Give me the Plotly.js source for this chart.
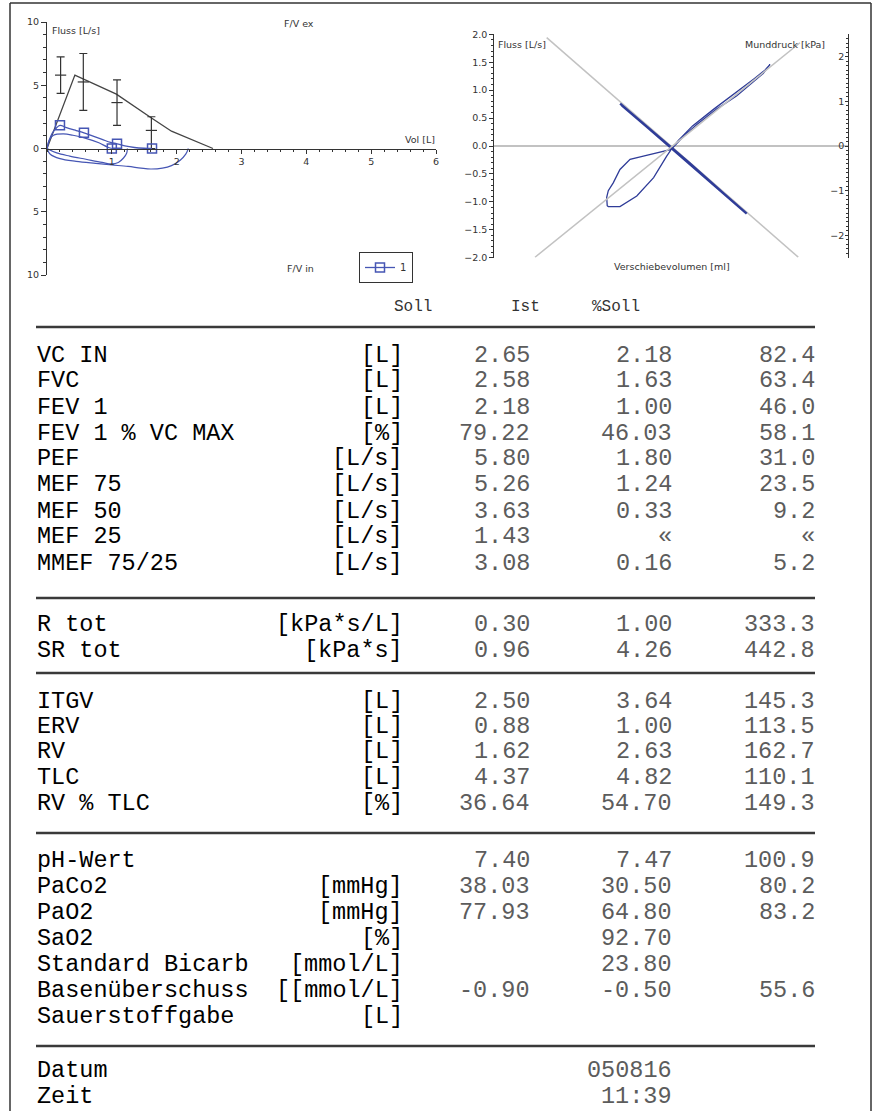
<!DOCTYPE html>
<html>
<head>
<meta charset="utf-8">
<script src="https://cdn.plot.ly/plotly-3.0.1.min.js"></script>
<style>html,body{margin:0;padding:0;background:#fff;}#chart{width:875px;height:1111px;}</style>
</head>
<body>
<div id="chart"></div>
<script>
// ---------- Data: flow-volume plot (left) ----------
const predVol   = [0, 0.43, 1.07, 1.25, 1.60, 1.92, 2.56];
const predFlow  = [0, 5.80, 4.30, 3.65, 2.45, 1.37, 0];
const refPtVol  = [0.21, 0.56, 1.08, 1.61];
const refPtFlow = [5.80, 5.26, 3.63, 1.43];
const refPlus   = [1.45, 2.25, 1.80, 1.08];
const refMinus  = [1.45, 2.25, 1.80, 1.43];

const exp1Vol  = [0, 0.03, 0.08, 0.14, 0.20, 0.30, 0.45, 0.57, 0.70, 0.85, 0.98, 1.08, 1.20, 1.35, 1.50, 1.62];
const exp1Flow = [0, 0.60, 1.20, 1.60, 1.83, 1.65, 1.42, 1.24, 1.00, 0.72, 0.48, 0.37, 0.20, 0.08, 0.02, 0];
const exp1Markers = [4, 7, 11, 15];
const exp2Vol  = [0, 0.04, 0.10, 0.25, 0.40, 0.60, 0.80, 0.93, 1.00];
const exp2Flow = [0, 0.70, 1.05, 1.15, 1.05, 0.80, 0.45, 0.12, 0];
const exp2Markers = [8];
const insp1Vol  = [0, 0.15, 0.35, 0.60, 0.85, 1.00, 1.10, 1.18, 1.23, 1.24];
const insp1Flow = [0, -0.35, -0.60, -0.85, -1.10, -1.22, -1.10, -0.75, -0.35, 0];
const insp2Vol  = [0, 0.05, 0.20, 0.45, 0.75, 1.00, 1.25, 1.45, 1.60, 1.78, 1.92, 2.05, 2.14, 2.18];
const insp2Flow = [0, -0.45, -0.80, -1.02, -1.18, -1.30, -1.42, -1.55, -1.62, -1.55, -1.35, -0.95, -0.45, 0];

const volTickVals  = [1, 2, 3, 4, 5, 6];
const volTickText  = ['1', '2', '3', '4', '5', '6'];
const flowTickVals = [-10, -5, 0, 5, 10];
const flowTickText = ['10', '5', '0', '5', '10'];

// ---------- Data: bodyplethysmography plot (right) ----------
const refFlowLineX = [-0.704, 0.717];
const refFlowLineY = [1.94, -1.99];
const refPressLineX = [-0.770, 0.727];
const refPressLineY = [-2.49, 2.31];   // Munddruck axis units
const shiftX = [-0.289, -0.15, 0.0, 0.20, 0.426, 0.30, 0.10, -0.10, -0.28];
const shiftY = [0.76, 0.38, -0.04, -0.58, -1.21, -0.86, -0.30, 0.24, 0.73];
const loopX = [0.0, 0.068, 0.143, 0.256, 0.37, 0.482, 0.52, 0.558, 0.53, 0.47, 0.36, 0.24, 0.12, 0.04, 0.0,
               -0.083, -0.158, -0.233, -0.29, -0.328, -0.356, -0.365, -0.362, -0.356, -0.29, -0.195, -0.10, -0.026, 0.0];
const loopY = [-0.06, 0.17, 0.38, 0.66, 0.90, 1.20, 1.30, 1.46, 1.36, 1.21, 0.95, 0.66, 0.36, 0.10, -0.06,
               -0.13, -0.18, -0.24, -0.42, -0.66, -0.80, -0.92, -1.07, -1.085, -1.085, -0.895, -0.566, -0.18, -0.06];
const leftTickFmt = '.1f';
const pressTickVals = [-2, -1, 0, 1, 2];

// ---------- Data: table ----------
const headerLabels = ['Soll', 'Ist', '%Soll'];
const rowLabels = ['VC IN', 'FVC', 'FEV 1', 'FEV 1 % VC MAX', 'PEF', 'MEF 75', 'MEF 50', 'MEF 25', 'MMEF 75/25',
  'R tot', 'SR tot',
  'ITGV', 'ERV', 'RV', 'TLC', 'RV % TLC',
  'pH-Wert', 'PaCo2', 'PaO2', 'SaO2', 'Standard Bicarb', 'Basenüberschuss', 'Sauerstoffgabe',
  'Datum', 'Zeit'];
const rowUnits = ['[L]', '[L]', '[L]', '[%]', '[L/s]', '[L/s]', '[L/s]', '[L/s]', '[L/s]',
  '[kPa*s/L]', '[kPa*s]',
  '[L]', '[L]', '[L]', '[L]', '[%]',
  '', '[mmHg]', '[mmHg]', '[%]', '[mmol/L]', '[[mmol/L]', '[L]',
  '', ''];
const sollVals = ['2.65', '2.58', '2.18', '79.22', '5.80', '5.26', '3.63', '1.43', '3.08',
  '0.30', '0.96',
  '2.50', '0.88', '1.62', '4.37', '36.64',
  '7.40', '38.03', '77.93', '', '', '-0.90', '',
  '', ''];
const istVals = ['2.18', '1.63', '1.00', '46.03', '1.80', '1.24', '0.33', '«', '0.16',
  '1.00', '4.26',
  '3.64', '1.00', '2.63', '4.82', '54.70',
  '7.47', '30.50', '64.80', '92.70', '23.80', '-0.50', '',
  '050816', '11:39'];
const pctVals = ['82.4', '63.4', '46.0', '58.1', '31.0', '23.5', '9.2', '«', '5.2',
  '333.3', '442.8',
  '145.3', '113.5', '162.7', '110.1', '149.3',
  '100.9', '80.2', '83.2', '', '', '55.6', '',
  '', ''];
const sectionSizes = [9, 2, 5, 7, 2];

// ---------- Layout helpers ----------
const W = 875, H = 1111;
const px = v => v / W;
const py = v => 1 - v / H;
const blue = '#4656b4';
const darkBlue = '#2f3c98';
const ink = '#333333';
const grey = '#c2c2c2';
const plotFont = 'DejaVu Sans, Verdana, sans-serif';
const monoFont = 'Liberation Mono, Courier New, monospace';

const traces = [
  {x: predVol, y: predFlow, mode: 'lines', line: {color: '#444', width: 1.3}, showlegend: false, hoverinfo: 'skip'},
  {x: refPtVol, y: refPtFlow, mode: 'markers', marker: {symbol: 'line-ew-open', size: 8, color: '#333', line: {width: 1.2, color: '#333'}},
   error_y: {type: 'data', symmetric: false, array: refPlus, arrayminus: refMinus, color: '#333', thickness: 1.2, width: 4},
   showlegend: false, hoverinfo: 'skip'},
  {x: insp1Vol, y: insp1Flow, mode: 'lines', line: {color: blue, width: 1.2, shape: 'spline'}, showlegend: false, hoverinfo: 'skip'},
  {x: insp2Vol, y: insp2Flow, mode: 'lines', line: {color: blue, width: 1.2, shape: 'spline'}, showlegend: false, hoverinfo: 'skip'},
  {x: exp2Vol, y: exp2Flow, mode: 'lines+markers', line: {color: blue, width: 1.2, shape: 'spline'},
   marker: {symbol: 'square-open', size: 9, color: blue, line: {width: 1.5}},
   selectedpoints: exp2Markers, selected: {marker: {opacity: 1}}, unselected: {marker: {opacity: 0}},
   showlegend: false, hoverinfo: 'skip'},
  {x: exp1Vol, y: exp1Flow, mode: 'lines+markers', name: '1', line: {color: blue, width: 1.3, shape: 'spline'},
   marker: {symbol: 'square-open', size: 9, color: blue, line: {width: 1.5}},
   selectedpoints: exp1Markers, selected: {marker: {opacity: 1}}, unselected: {marker: {opacity: 0}},
   showlegend: true, hoverinfo: 'skip'},
  // right plot
  {x: refFlowLineX, y: refFlowLineY, xaxis: 'x2', yaxis: 'y2', mode: 'lines', line: {color: grey, width: 1.5}, showlegend: false, hoverinfo: 'skip'},
  {x: refPressLineX, y: refPressLineY, xaxis: 'x2', yaxis: 'y3', mode: 'lines', line: {color: grey, width: 1.5}, showlegend: false, hoverinfo: 'skip'},
  {x: shiftX, y: shiftY, xaxis: 'x2', yaxis: 'y2', mode: 'lines', line: {color: darkBlue, width: 2.4}, showlegend: false, hoverinfo: 'skip'},
  {x: loopX, y: loopY, xaxis: 'x2', yaxis: 'y2', mode: 'lines', line: {color: darkBlue, width: 1.3}, showlegend: false, hoverinfo: 'skip'}
];

const annotations = [];
function txt(text, x, y, xanchor, font) {
  annotations.push({text: text, x: px(x), y: py(y), xref: 'paper', yref: 'paper', xanchor: xanchor, yanchor: 'middle',
    showarrow: false, font: font, borderpad: 0});
}
const smallFont = {family: plotFont, size: 9.5, color: ink};
txt('Fluss [L/s]', 51, 31, 'left', smallFont);
txt('F/V ex', 283, 24, 'left', smallFont);
txt('Vol [L]', 436, 139, 'right', smallFont);
txt('F/V in', 286, 268, 'left', smallFont);
txt('Fluss [L/s]', 497, 44, 'left', smallFont);
txt('Munddruck [kPa]', 826, 44, 'right', smallFont);
txt('Verschiebevolumen [ml]', 672, 267, 'center', smallFont);

// table
const headFont = {family: monoFont, size: 16, color: '#333'};
const headRight = [433, 541, 641];
headerLabels.forEach((h, i) => txt(h, headRight[i], 307, 'right', headFont));

const sectionFirstY = [355, 624, 701, 860, 1070];
const sectionStep = [26, 26, 25.5, 26, 26];
const ruleY = [327, 598, 673, 833, 1046];
const labelFont = {family: monoFont, size: 23.5, color: '#000000'};
const unitFont = {family: monoFont, size: 23.5, color: '#000000'};
const numFont = {family: monoFont, size: 23.5, color: '#5c5c5c'};
let r = 0;
sectionSizes.forEach((n, s) => {
  for (let k = 0; k < n; k++, r++) {
    const y = sectionFirstY[s] + k * sectionStep[s];
    txt(rowLabels[r], 36, y, 'left', labelFont);
    if (rowUnits[r]) txt(rowUnits[r], 404, y, 'right', unitFont);
    if (sollVals[r]) txt(sollVals[r], 531, y, 'right', numFont);
    if (istVals[r]) txt(istVals[r], 673, y, 'right', numFont);
    if (pctVals[r]) txt(pctVals[r], 816, y, 'right', numFont);
  }
});

const shapes = ruleY.map(y => ({type: 'line', xref: 'paper', yref: 'paper', x0: px(36), x1: px(815), y0: py(y), y1: py(y),
  line: {color: '#3a3a3a', width: 2.6}}));
shapes.push({type: 'line', xref: 'paper', yref: 'paper', x0: px(10), x1: px(10), y0: py(3), y1: 0, line: {color: ink, width: 1.5}});
shapes.push({type: 'line', xref: 'paper', yref: 'paper', x0: px(10), x1: px(871), y0: py(3), y1: py(3), line: {color: ink, width: 1.5}});
shapes.push({type: 'line', xref: 'paper', yref: 'paper', x0: px(871), x1: px(871), y0: py(3), y1: 0, line: {color: ink, width: 1.5}});

const tickFont = {family: plotFont, size: 9.5, color: ink};
const layout = {
  width: W, height: H,
  margin: {l: 0, r: 0, t: 0, b: 0},
  paper_bgcolor: '#ffffff', plot_bgcolor: 'rgba(0,0,0,0)',
  font: {family: plotFont, size: 10, color: ink},
  showlegend: true,
  legend: {x: px(359), y: py(252), xanchor: 'left', yanchor: 'top', bgcolor: '#ffffff', bordercolor: ink, borderwidth: 1,
    font: {family: plotFont, size: 10, color: ink}, itemwidth: 30, tracegroupgap: 0},
  xaxis: {domain: [px(47), px(436)], range: [0, 6], anchor: 'free', position: py(149),
    showline: true, linecolor: ink, linewidth: 1, ticks: 'outside', ticklen: 4, tickcolor: ink, tickwidth: 1,
    tickvals: volTickVals, ticktext: volTickText, tickfont: tickFont,
    minor: {dtick: 0.2, tick0: 0, ticks: 'outside', ticklen: 2, tickcolor: ink},
    showgrid: false, zeroline: false, fixedrange: true},
  yaxis: {domain: [py(275), py(22)], range: [-10, 10], anchor: 'x',
    showline: true, linecolor: ink, linewidth: 1, ticks: 'outside', ticklen: 5, tickcolor: ink,
    tickvals: flowTickVals, ticktext: flowTickText, tickfont: tickFont,
    minor: {dtick: 1, tick0: 0, ticks: 'outside', ticklen: 3, tickcolor: ink},
    showgrid: false, zeroline: false, fixedrange: true},
  xaxis2: {domain: [px(494.3), px(848.3)], range: [-1, 1], anchor: 'y2', visible: false, fixedrange: true},
  yaxis2: {domain: [py(257.7), py(34.3)], range: [-2, 2], anchor: 'x2',
    showline: true, linecolor: ink, linewidth: 1, ticks: 'outside', ticklen: 4, tickcolor: ink,
    dtick: 0.5, tick0: 0, tickformat: leftTickFmt, tickfont: tickFont,
    minor: {dtick: 0.1, tick0: 0, ticks: 'outside', ticklen: 2, tickcolor: ink},
    showgrid: false, zeroline: true, zerolinecolor: grey, zerolinewidth: 1.5, fixedrange: true},
  yaxis3: {overlaying: 'y2', side: 'right', anchor: 'x2', range: [-2.5, 2.5],
    showline: true, linecolor: ink, linewidth: 1, ticks: 'inside', ticklen: 3, tickcolor: ink,
    tickvals: pressTickVals, ticklabelposition: 'inside', tickfont: tickFont,
    minor: {dtick: 0.1, tick0: 0, ticks: 'inside', ticklen: 2, tickcolor: ink},
    showgrid: false, zeroline: false, fixedrange: true},
  annotations: annotations,
  shapes: shapes
};

Plotly.newPlot('chart', traces, layout, {staticPlot: true, displayModeBar: false});
</script>
</body>
</html>
